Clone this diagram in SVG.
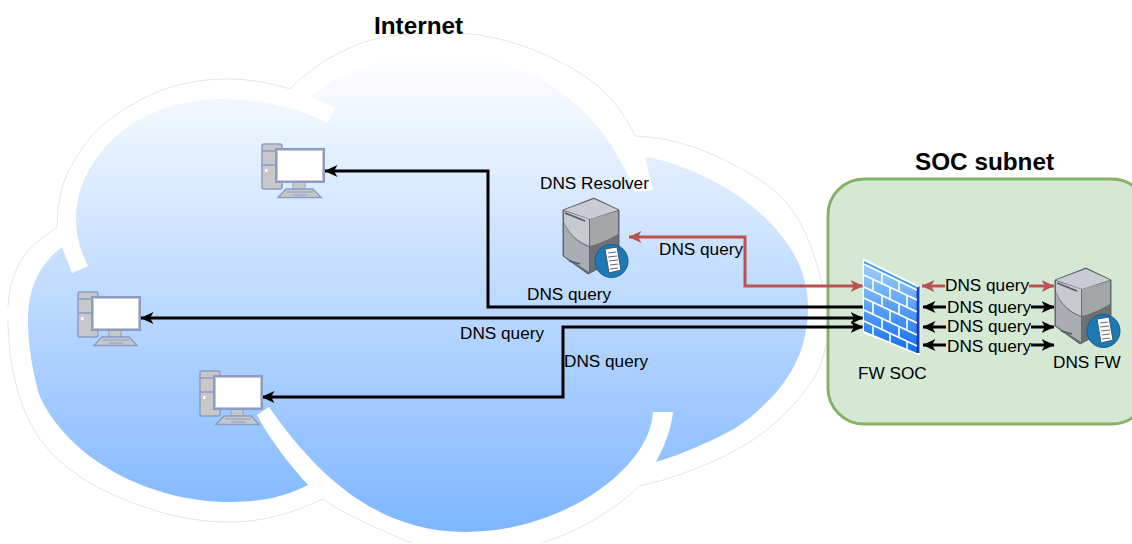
<svg xmlns="http://www.w3.org/2000/svg" width="1132" height="544" viewBox="0 0 1132 544">
<style>
text{font-family:"Liberation Sans",Arial,sans-serif;font-size:17.2px;fill:#000}
.b{font-weight:bold;font-size:24.3px}
.c{fill:none;stroke:#000;stroke-width:3}
.r{fill:none;stroke:#b85450;stroke-width:3}
.o{fill:none;stroke:#d4d4d4;stroke-width:.6}
.m{fill:#d5e8d4}
.mort{fill:none;stroke:#fff;stroke-width:1.600}
</style>
<defs>
<linearGradient id="sky" x1="0" y1="0" x2="0" y2="1"><stop offset="0" stop-color="#fff"/><stop offset="1" stop-color="#7eb6ff"/></linearGradient>
<linearGradient id="brick" x1="0" y1="0" x2="0" y2="1"><stop offset="0" stop-color="#a4d3fb"/><stop offset="1" stop-color="#0f6ef0"/></linearGradient>
<clipPath id="fwclip"><path d="M864 261L917 287V353L864 331Z"/></clipPath>
<marker id="ab" viewBox="0 0 13 12" refX="12.500" refY="6" markerWidth="13" markerHeight="12" markerUnits="userSpaceOnUse" orient="auto-start-reverse"><path d="M0 0L13 6L0 12L3.500 6Z" fill="#000"/></marker>
<marker id="ar" viewBox="0 0 13 12" refX="12.500" refY="6" markerWidth="13" markerHeight="12" markerUnits="userSpaceOnUse" orient="auto-start-reverse"><path d="M0 0L13 6L0 12L3.500 6Z" fill="#b85450"/></marker>
<g id="pc"><rect x="-1" y="0" width="20" height="45" rx="2" fill="#c8c8c8" stroke="#8a9cc8" stroke-width="1.500"/><path d="M-1 7H12M-1 21H12" stroke="#8a9cc8" stroke-width="1.500"/><rect x="2" y="25" width="2.500" height="3" fill="#fff"/><rect x="30" y="38" width="12" height="7" fill="#c8c8c8" stroke="#8a9cc8"/><path d="M15 53.500L23 45H50L58 53.500Z" fill="#c8c8c8" stroke="#8a9cc8" stroke-width="1.500"/><path d="M24 48H50M30 51H44" stroke="#8a9cc8"/><rect x="13" y="5" width="48" height="33" fill="#fff" stroke="#8a9cc8" stroke-width="2"/><rect x="14.500" y="6.500" width="45" height="30" fill="none" stroke="#c8c8c8"/></g>
<g id="srv"><path d="M1 12L32 0L57 12V60L26 76L1 58Z" fill="#666a70" stroke="#5f6670"/><path d="M2 12L32 1L56 12L28 21Z" fill="#c9ccd2"/><path d="M2 13L27 21V48C16 44 7 36 2 24Z" fill="#c6c9ce"/><path d="M28 21L56 13V36C46 42 36 46 28 48Z" fill="#a4a5a7"/><path d="M2 25C7 37 16 45 27 49V74L2 58Z" fill="#a9acb1"/><path d="M28 49C36 47 46 43 56 37V59L28 74Z" fill="#6e7073"/><path d="M3 15L23 23M7 63L18 66" stroke="#555a60" stroke-width="1.500"/><circle cx="49.500" cy="63" r="16.500" fill="#1c79b6" stroke="#0f5d90"/><path d="M43 51L55 49L59 72L47 75Z" fill="#fff" stroke="#34566f"/><path d="M46 55L54 54M46 59L55 58M47 63L56 62M48 67L56 66M48 71L56 70" stroke="#667" stroke-width="1"/></g>
</defs>

<g id="internet-cloud">
<path fill="url(#sky)" d="M28 320C28 285 42 262 62 247L72 273L88 266C80 250 76 235 76 220C76 180 100 145 133 123C160 107 190 99 220 99C260 99 295 107 328 123L335 107L310 97C350 65 400 53 447 53C520 53 600 100 635 192L653 190L645 157C700 165 808 220 808 307C808 350 790 390 737 427C715 440 680 455 656 462C665 445 671 430 673 412L653 412C650 470 560 532 466 532C380 532 320 480 269 407L257 415C270 440 290 465 308 485C285 497 260 502 230 502C150 502 70 460 40 397C33 375 28 345 28 320Z"/>
<path class="o" d="M8 307C9 280 20 255 37 242L57 227C58 180 72 165 83 147C100 122 125 108 150 95C175 84 200 79 227 79C250 79 270 83 290 89C310 68 345 45 380 38C410 32 445 31 480 35C520 42 550 55 580 73C610 92 625 115 635 136C670 138 695 146 720 158C750 172 770 185 787 203C805 225 815 255 823 287"/>
<path class="o" d="M826 345C822 365 815 380 803 393C790 410 775 425 753 440C725 458 695 470 663 480L639 486C620 505 585 530 541 543M412 543C380 530 345 515 323 499C295 512 265 522 230 522C195 522 165 515 133 503C105 492 85 482 67 467C45 450 32 430 23 407C13 380 8 350 8 320"/>
</g>

<g id="soc-subnet"><rect x="828" y="179" width="320" height="245" rx="36" fill="#d5e8d4" stroke="#82b366" stroke-width="3"/></g>

<g id="connectors">
<path class="c" marker-end="url(#ab)" d="M863 307H488V171H325"/>
<path class="c" marker-start="url(#ab)" marker-end="url(#ab)" d="M141 318H863"/>
<path class="c" marker-start="url(#ab)" marker-end="url(#ab)" d="M863 327H563V397H262"/>
<path class="r" marker-start="url(#ar)" marker-end="url(#ar)" d="M629 237H745V286H863"/>
<path class="r" marker-start="url(#ar)" marker-end="url(#ar)" d="M922 286H1054"/>
<path class="c" marker-start="url(#ab)" marker-end="url(#ab)" d="M923 307H1054"/>
<path class="c" marker-start="url(#ab)" marker-end="url(#ab)" d="M923 327H1054"/>
<path class="c" marker-start="url(#ab)" marker-end="url(#ab)" d="M923 345H1054"/>
</g>

<g id="pc-1"><use href="#pc" x="263" y="144"/></g>
<g id="pc-2"><use href="#pc" x="79" y="292"/></g>
<g id="pc-3"><use href="#pc" x="201" y="371"/></g>
<g id="dns-resolver"><use href="#srv" x="562" y="198"/><text x="540" y="189">DNS Resolver</text></g>
<g id="dns-fw"><use href="#srv" x="1054" y="268"/><text x="1053" y="368">DNS FW</text></g>
<g id="fw-soc">
<path d="M864 260L919 287V354L864 332Z" fill="#fff" stroke="#fff" stroke-width="2.500" stroke-linejoin="round"/>
<path d="M864 261L917 287V353L864 331Z" fill="url(#brick)"/>
<path d="M864 261L917 287V290L864 264Z" fill="#3d9df0"/>
<path d="M916.500 288L919.500 286V353L916.500 353Z" fill="#1a3fb0"/>
<g clip-path="url(#fwclip)">
<path class="mort" d="M864 264L917 290M864 275L917 300M864 287L917 312M864 298L917 323M864 310L917 335M864 321L917 346"/>
<path class="mort" d="M882 272.600V283.600M899 280.800V291.800M873 279.300V291.300M890 287.500V299.500M907 295.600V307.600M882 295.600V306.600M899 303.800V314.800M873 302.300V314.300M890 310.500V322.500M907 318.600V330.600M882 318.600V329.600M899 326.800V337.800M873 325.300V337.300M890 333.500V345.500M907 341.600V353"/>
</g>
<text x="858" y="379">FW SOC</text></g>

<g id="labels">
<text class="b" x="374" y="34">Internet</text>
<text class="b" x="915" y="170">SOC subnet</text>
<text x="527" y="300">DNS query</text>
<text x="460" y="339">DNS query</text>
<text x="564" y="367">DNS query</text>
<text x="659" y="255">DNS query</text>
<rect class="m" x="945" y="278" width="84" height="16"/><text x="945" y="291">DNS query</text>
<rect class="m" x="946" y="299" width="85" height="16"/><text x="947" y="312.500">DNS query</text>
<rect class="m" x="946" y="319" width="85" height="16"/><text x="947" y="332">DNS query</text>
<rect class="m" x="946" y="337" width="85" height="16"/><text x="947" y="351.500">DNS query</text>
</g>
</svg>
